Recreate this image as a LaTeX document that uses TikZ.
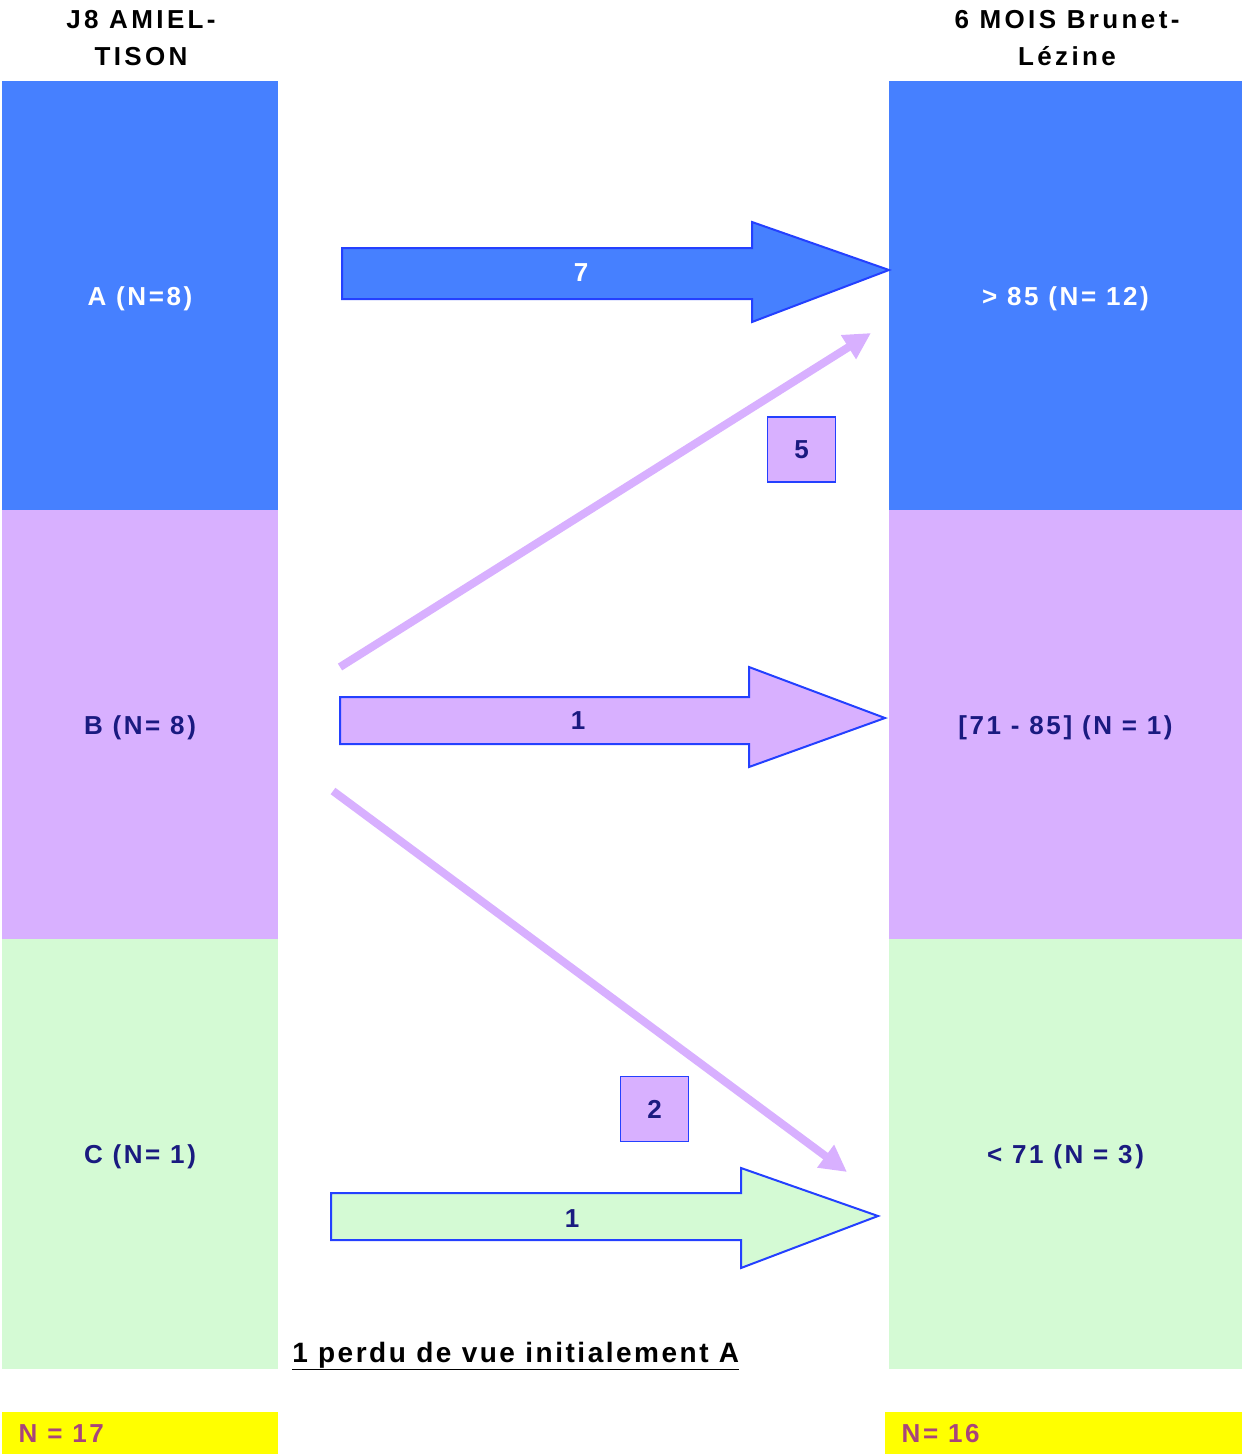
\documentclass[tikz,border=0pt]{standalone}
\usepackage{fontspec}
\setmainfont{Liberation Sans}
\newfontfamily\wideb[LetterSpace=10]{Liberation Sans}
\newfontfamily\wideh[LetterSpace=13]{Liberation Sans}
\newfontfamily\widen[LetterSpace=9]{Liberation Sans}
\usetikzlibrary{arrows.meta}
\definecolor{blueA}{HTML}{4680FF}
\definecolor{lav}{HTML}{D8B0FF}
\definecolor{mint}{HTML}{D4FAD4}
\definecolor{edge}{HTML}{2440FF}
\definecolor{navy}{HTML}{1A1A80}
\definecolor{plum}{HTML}{A8447C}
\definecolor{yel}{HTML}{FFFF00}
\begin{document}
\begin{tikzpicture}[x=0.75pt,y=-0.75pt,
  lbl/.style={font=\wideb\bfseries\fontsize{19.5}{22}\selectfont},
  lcol/.style={inner sep=0pt, minimum width=207pt, minimum height=322.5pt, lbl, text depth=0pt},
  rcol/.style={inner sep=0pt, minimum width=264.75pt, minimum height=322.5pt, lbl, text depth=0pt},
  hdr/.style={font=\wideh\bfseries\fontsize{19.5}{28}\selectfont, align=center},
  blockarrow/.style={draw=edge, line width=1.5pt, line join=miter},
  diag/.style={draw=lav, line width=6pt, -{Triangle[length=20pt,width=20pt]}},
  numbox/.style={draw=edge, fill=lav, line width=1.2pt, inner sep=0pt, minimum width=51pt, minimum height=49pt, text=navy, lbl},
  tot/.style={fill=yel, inner sep=0pt, minimum height=31.5pt, text=plum, lbl, text depth=0pt}
]
\useasboundingbox (0,0) rectangle (1243,1454);
% headers
\node[hdr] (hl) at (141,38) {J8 AMIEL-\\TISON};
\node[hdr] (hr) at (1067,38) {6 MOIS Brunet-\\Lézine};
% left column
\node[lcol, fill=blueA, text=white] (A) at (140,296) {A (N=8)};
\node[lcol, fill=lav, text=navy] (B) at (140,725) {B (N= 8)};
\node[lcol, fill=mint, text=navy] (C) at (140,1154) {C (N= 1)};
% right column
\node[rcol, fill=blueA, text=white] (R1) at (1065.5,296) {> 85 (N= 12)};
\node[rcol, fill=lav, text=navy] (R2) at (1065.5,725) {[71 - 85] (N = 1)};
\node[rcol, fill=mint, text=navy] (R3) at (1065.5,1154) {< 71 (N = 3)};
% block arrows
\draw[blockarrow, fill=blueA] (342,248) -- (752,248) -- (752,222) -- (889,270) -- (752,322) -- (752,299) -- (342,299) -- cycle;
\node[lbl, text=white] (n7) at (581,273) {7};
\draw[blockarrow, fill=lav] (340,697) -- (749,697) -- (749,667) -- (885,718) -- (749,767) -- (749,744) -- (340,744) -- cycle;
\node[lbl, text=navy] (n1b) at (578,721) {1};
\draw[blockarrow, fill=mint] (331,1193) -- (741,1193) -- (741,1168) -- (878,1216) -- (741,1268) -- (741,1240) -- (331,1240) -- cycle;
\node[lbl, text=navy] (n1c) at (572,1219) {1};
% diagonal arrows
\coordinate (d1s) at (340,667);
\coordinate (d1e) at (871,333);
\coordinate (d2s) at (333,791);
\coordinate (d2e) at (847,1172);
\draw[diag] (d1s) -- (d1e);
\draw[diag] (d2s) -- (d2e);
\node[numbox] (b5) at (801.5,449.5) {5};
\node[numbox] (b2) at (654.5,1109) {2};
% note
\node[font=\widen\bfseries\fontsize{21}{24}\selectfont, anchor=base west, inner sep=0pt] (note) at (292,1362) {\underline{1 perdu de vue initialement A}};
% totals
\node[tot, minimum width=207pt, anchor=north west] (t1) at (2,1412) {};
\node[lbl, text=plum, anchor=west] (t1t) at (14,1434) {N = 17};
\node[tot, minimum width=267.75pt, anchor=north west] (t2) at (885,1412) {};
\node[lbl, text=plum, anchor=west] (t2t) at (897,1434) {N= 16};
\end{tikzpicture}
\end{document}
